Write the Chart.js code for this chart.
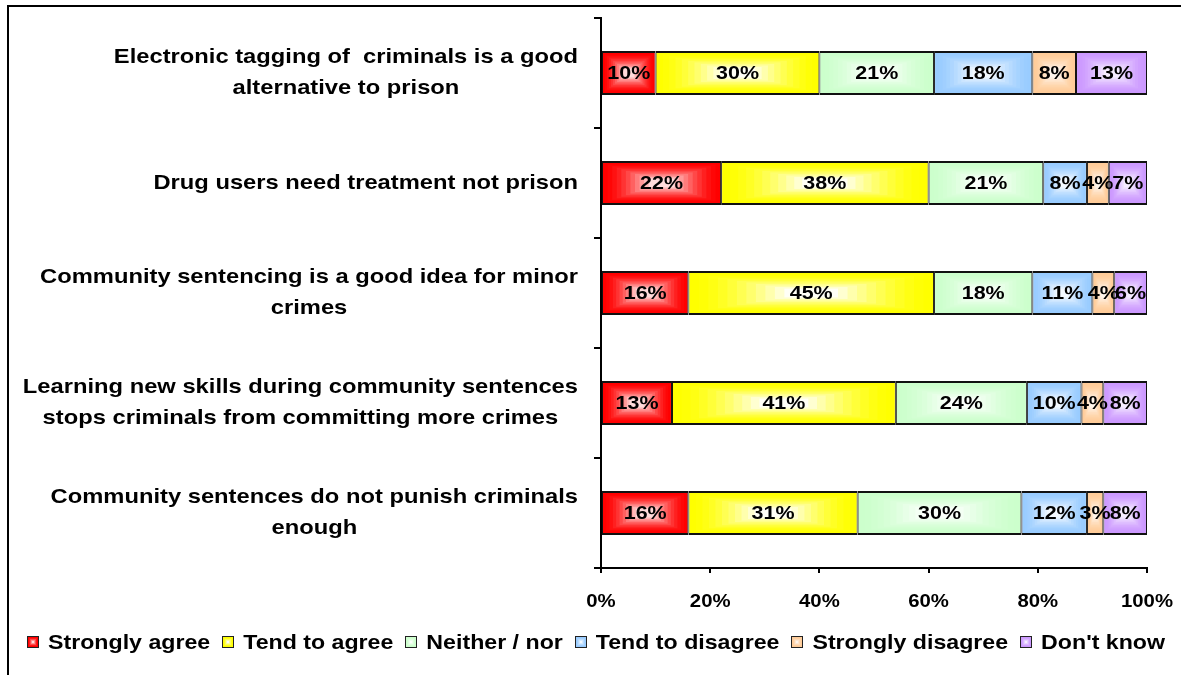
<!DOCTYPE html>
<html>
<head>
<meta charset="utf-8">
<script src="https://cdn.jsdelivr.net/npm/chart.js@4.4.1/dist/chart.umd.min.js"></script>
<style>
  html, body { margin: 0; padding: 0; background: #fff; }
  #wrap { position: relative; width: 1181px; height: 675px; overflow: hidden; }
  #frame { position: absolute; left: 7px; top: 5px; right: -10px; bottom: -10px;
           border-left: 2px solid #000; border-top: 2px solid #000; }
  canvas { position: absolute; left: 0; top: 0; }
</style>
</head>
<body>
<div id="wrap">
  <div id="frame"></div>
  <canvas id="chart" width="1181" height="675"></canvas>
</div>
<script>
// Survey statements (each entry is the list of lines of its label)
const statements = [
  ["Electronic tagging of  criminals is a good", "alternative to prison"],
  ["Drug users need treatment not prison"],
  ["Community sentencing is a good idea for minor", "crimes"],
  ["Learning new skills during community sentences", "stops criminals from committing more crimes"],
  ["Community sentences do not punish criminals", "enough"]
];

const responseNames = ["Strongly agree", "Tend to agree", "Neither / nor",
                       "Tend to disagree", "Strongly disagree", "Don't know"];

// Share of respondents (%) per statement
const stronglyAgree    = [10, 22, 16, 13, 16];
const tendToAgree      = [30, 38, 45, 41, 31];
const neitherNor       = [21, 21, 18, 24, 30];
const tendToDisagree   = [18,  8, 11, 10, 12];
const stronglyDisagree = [ 8,  4,  4,  4,  3];
const dontKnow         = [13,  7,  6,  8,  8];

const xTicks = [0, 20, 40, 60, 80, 100];

// Edge colours of each response band and how pale its centre gets
const bandRgb = [[255, 0, 0], [255, 255, 0], [204, 255, 204],
                 [153, 204, 255], [255, 204, 153], [204, 153, 255]];
const centreMix = [0.86, 0.97, 0.92, 0.88, 0.82, 0.82];

const FONT = '"Liberation Sans", Arial, sans-serif';
const TEXT_STRETCH = 1.13;   // the type is set a little wide
Chart.defaults.font.family = FONT;
Chart.defaults.color = '#000';

const mixRgb = (rgb, m) => 'rgb(' + rgb.map(c => Math.round(c + (255 - c) * m)).join(',') + ')';

// Fill a rectangle with stepped rectangular bands fading from the edge colour to the pale centre
function paintBands(ctx, l, t, w, h, rgb, maxMix, steps) {
  for (let k = 1; k <= steps; k++) {
    const f = k / steps;
    const g = f * 0.78;
    const dx = g * w / 2, dy = g * h / 2;
    ctx.fillStyle = mixRgb(rgb, Math.pow(f, 1.6) * maxMix);
    ctx.fillRect(l + dx, t + dy, w - 2 * dx, h - 2 * dy);
  }
}

// Bold text, widened horizontally about its anchor
function wideText(ctx, text, x, y, size, align) {
  ctx.save();
  ctx.font = 'bold ' + size + 'px ' + FONT;
  ctx.textAlign = align;
  ctx.textBaseline = 'middle';
  ctx.translate(x, y);
  ctx.scale(TEXT_STRETCH, 1);
  ctx.fillText(text, 0, 0);
  ctx.restore();
}
function wideWidth(ctx, text, size) {
  ctx.save();
  ctx.font = 'bold ' + size + 'px ' + FONT;
  const w = ctx.measureText(text).width * TEXT_STRETCH;
  ctx.restore();
  return w;
}

const seriesValues = [stronglyAgree, tendToAgree, neitherNor, tendToDisagree, stronglyDisagree, dontKnow];

const datasets = seriesValues.map((vals, i) => ({
  label: responseNames[i],
  data: vals,
  backgroundColor: mixRgb(bandRgb[i], 0),
  borderColor: '#111',
  borderWidth: { top: 2, bottom: 2, left: 1, right: 1 },
  borderSkipped: false,
  categoryPercentage: 1,
  barPercentage: 0.4
}));

// Gradient shading and value labels inside every bar segment
const barShading = {
  id: 'barShading',
  afterDatasetsDraw(chart) {
    const ctx = chart.ctx;
    ctx.save();
    chart.data.datasets.forEach((ds, di) => {
      const meta = chart.getDatasetMeta(di);
      meta.data.forEach((bar) => {
        const p = bar.getProps(['x', 'y', 'base', 'height'], true);
        const l = Math.min(p.x, p.base), r = Math.max(p.x, p.base);
        const t = p.y - p.height / 2, b = p.y + p.height / 2;
        paintBands(ctx, l + 1, t + 2, (r - l) - 2, (b - t) - 4, bandRgb[di], centreMix[di], 10);
      });
    });
    ctx.fillStyle = '#000';
    chart.data.datasets.forEach((ds, di) => {
      const meta = chart.getDatasetMeta(di);
      meta.data.forEach((bar, i) => {
        const p = bar.getProps(['x', 'y', 'base'], true);
        wideText(ctx, ds.data[i] + '%', (p.x + p.base) / 2, p.y + 1, 19, 'center');
      });
    });
    ctx.restore();
  }
};

// Statement labels, x tick labels and the legend row
const chartText = {
  id: 'chartText',
  afterDraw(chart) {
    const ctx = chart.ctx;
    const area = chart.chartArea;
    const yScale = chart.scales.y;
    const xScale = chart.scales.x;
    ctx.save();
    ctx.fillStyle = '#000';

    // statements: block right-aligned to the axis, lines centred within the block
    const rightEdge = area.left - 23;
    const lineH = 31;
    statements.forEach((lines, i) => {
      const yc = yScale.getPixelForValue(i);
      const blockW = Math.max(...lines.map(s => wideWidth(ctx, s, 21)));
      const cx = rightEdge - blockW / 2;
      lines.forEach((s, j) => {
        wideText(ctx, s, cx, yc + (j - (lines.length - 1) / 2) * lineH, 21, 'center');
      });
    });

    // x tick labels
    xTicks.forEach(v => {
      wideText(ctx, v + '%', xScale.getPixelForValue(v), area.bottom + 34, 18, 'center');
    });

    // legend
    const size = 20.5, box = 12, boxGap = 9, itemGap = 12;
    const widths = responseNames.map(n => box + boxGap + wideWidth(ctx, n, size));
    const total = widths.reduce((a, b) => a + b, 0) + itemGap * (widths.length - 1);
    let x = 596 - total / 2;
    const yc = area.bottom + 74;
    responseNames.forEach((n, i) => {
      const bx = Math.round(x), by = Math.round(yc - box / 2);
      ctx.fillStyle = '#222';
      ctx.fillRect(bx, by, box, box);
      ctx.fillStyle = mixRgb(bandRgb[i], 0);
      ctx.fillRect(bx + 1, by + 1, box - 2, box - 2);
      paintBands(ctx, bx + 1, by + 1, box - 2, box - 2, bandRgb[i], centreMix[i], 4);
      ctx.fillStyle = '#000';
      wideText(ctx, n, x + box + boxGap, yc + 1, size, 'left');
      x += widths[i] + itemGap;
    });
    ctx.restore();
  }
};

new Chart(document.getElementById('chart'), {
  type: 'bar',
  data: { labels: statements.map(s => s.join(' ')), datasets },
  options: {
    indexAxis: 'y',
    responsive: false,
    animation: false,
    devicePixelRatio: 1,
    layout: { padding: { left: 0, top: 18, right: 34, bottom: 55 } },
    plugins: {
      tooltip: { enabled: false },
      legend: { display: false }
    },
    scales: {
      x: {
        stacked: true,
        min: 0,
        max: 100,
        afterBuildTicks: (scale) => { scale.ticks = xTicks.map(v => ({ value: v })); },
        ticks: { display: false },
        grid: { drawOnChartArea: false, drawTicks: true, tickLength: 5, color: '#000', lineWidth: 2 },
        border: { display: true, color: '#000', width: 2 },
        afterFit: (scale) => { scale.height = 52; }
      },
      y: {
        stacked: true,
        ticks: { display: false },
        grid: { drawOnChartArea: false, drawTicks: true, tickLength: 7, color: '#000', lineWidth: 2, offset: true },
        border: { display: true, color: '#000', width: 2 },
        afterFit: (scale) => { scale.width = 601; }
      }
    }
  },
  plugins: [barShading, chartText]
});
</script>
</body>
</html>
